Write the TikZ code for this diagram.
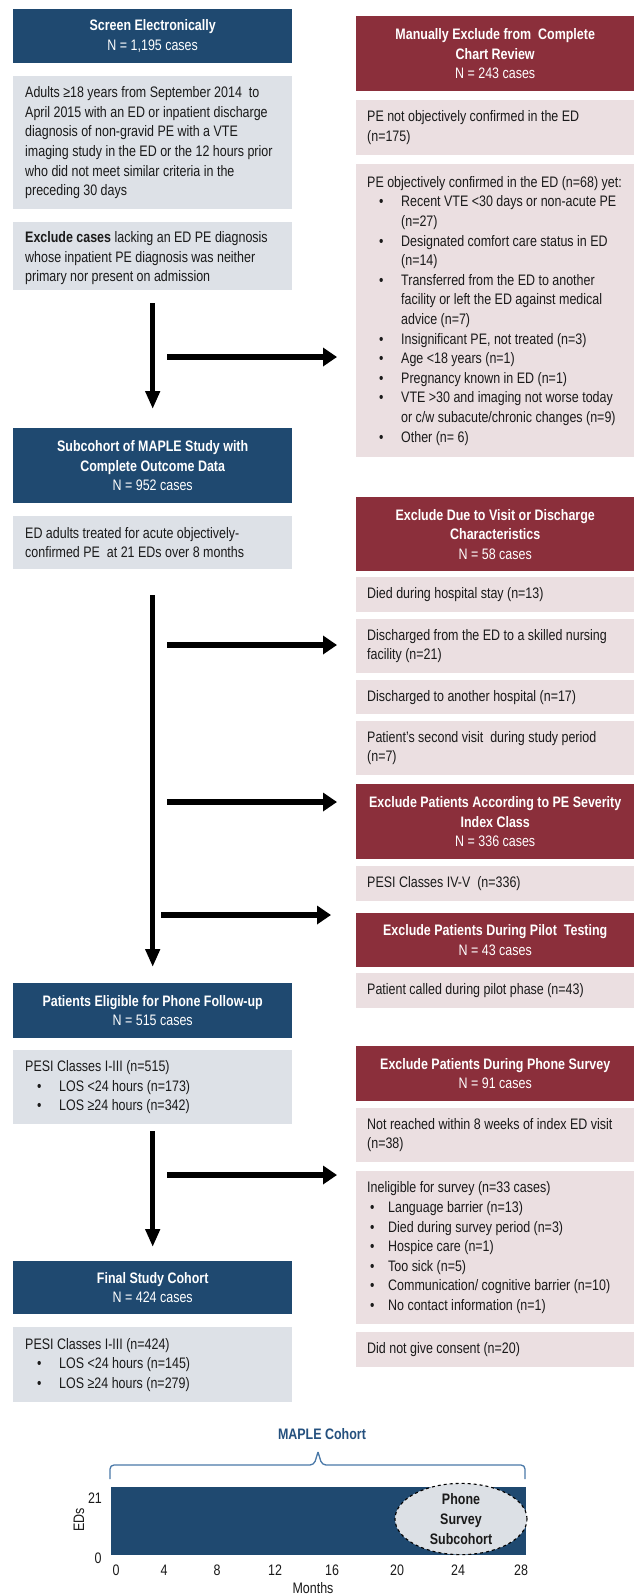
\documentclass[tikz,border=0pt]{standalone}
\usepackage{fontspec}
\setmainfont{Liberation Sans}[FakeStretch=0.82]
\usetikzlibrary{arrows.meta,shapes.geometric,calc}
\definecolor{cblue}{HTML}{1F4970}
\definecolor{cred}{HTML}{8B2F3B}
\definecolor{cgray}{HTML}{DDE1E7}
\definecolor{cpink}{HTML}{EBDFE1}
\definecolor{ctext}{HTML}{1A1A1A}
\definecolor{cbrace}{HTML}{4A79A8}
\definecolor{ctitle}{HTML}{24507E}
\definecolor{cell}{HTML}{DCE0E5}
\newcommand\fs{\fontsize{15.2}{19.6}\selectfont}
\newcommand\mybul{\makebox[34pt][l]{\hspace*{12pt}•}}
\newcommand\myind{\hspace*{34pt}}
\newcommand\mybulb{\makebox[21pt][l]{\hspace*{3pt}•}}
\tikzset{
  base/.style={anchor=north west, inner sep=0pt, font=\fs},
  lw/.style={minimum width=279pt},
  rw/.style={minimum width=278pt},
  bluebox/.style={base, lw, fill=cblue, text=white, align=center},
  redbox/.style={base, rw, fill=cred, text=white, align=center},
  graybox/.style={base, lw, fill=cgray},
  pinkbox/.style={base, rw, fill=cpink},
  txt/.style={anchor=west, inner sep=0pt, align=left, font=\fs, text=ctext},
  varr/.style={line width=4.5pt, -{Triangle[length=18pt,width=14pt]}},
  harr/.style={line width=6pt, -{Triangle[length=14pt,width=18pt]}},
  lbl/.style={inner sep=0pt, font=\fs, text=ctext}
}
\begin{document}
\begin{tikzpicture}[x=1pt,y=-1pt]
\fill[white] (0,0) rectangle (634,1595);
\useasboundingbox (0,0) rectangle (634,1595);
% ---------- left column ----------
\node[bluebox, minimum height=54pt] (L1) at (13,9) {\textbf{Screen Electronically}\\N = 1,195 cases};
\node[graybox, minimum height=133pt] (L2) at (13,76) {};
\node[txt] (L2t) at ([xshift=12pt]L2.west) {Adults ≥18 years from September 2014 \ to\\April 2015 with an ED or inpatient discharge\\diagnosis of non-gravid PE with a VTE\\imaging study in the ED or the 12 hours prior\\who did not meet similar criteria in the\\preceding 30 days};
\node[graybox, minimum height=68pt] (L3) at (13,222) {};
\node[txt] (L3t) at ([xshift=12pt,yshift=-2pt]L3.west) {\textbf{Exclude cases} lacking an ED PE diagnosis\\whose inpatient PE diagnosis was neither\\primary nor present on admission};
\node[bluebox, minimum height=75pt] (L4) at (13,428) {\textbf{Subcohort of MAPLE Study with}\\\textbf{Complete Outcome Data}\\N = 952 cases};
\node[graybox, minimum height=53pt] (L5) at (13,516) {};
\node[txt] (L5t) at ([xshift=12pt]L5.west) {ED adults treated for acute objectively-\\confirmed PE \ at 21 EDs over 8 months};
\node[bluebox, minimum height=55pt] (L6) at (13,983) {\textbf{Patients Eligible for Phone Follow-up}\\N = 515 cases};
\node[graybox, minimum height=74pt] (L7) at (13,1050) {};
\node[txt] (L7t) at ([xshift=12pt]L7.west) {PESI Classes I-III (n=515)\\\mybul LOS <24 hours (n=173)\\\mybul LOS ≥24 hours (n=342)};
\node[bluebox, minimum height=53pt] (L8) at (13,1261) {\textbf{Final Study Cohort}\\N = 424 cases};
\node[graybox, minimum height=75pt] (L9) at (13,1327) {};
\node[txt] (L9t) at ([xshift=12pt]L9.west) {PESI Classes I-III (n=424)\\\mybul LOS <24 hours (n=145)\\\mybul LOS ≥24 hours (n=279)};
% ---------- right column ----------
\node[redbox, minimum height=75pt] (R1) at (356,16) {\textbf{Manually Exclude from \ Complete}\\\textbf{Chart Review}\\N = 243 cases};
\node[pinkbox, minimum height=55pt] (R2) at (356,100) {};
\node[txt] (R2t) at ([xshift=11pt]R2.west) {PE not objectively confirmed in the ED\\(n=175)};
\node[pinkbox, minimum height=293pt] (R3) at (356,164) {};
\node[txt] (R3t) at ([xshift=11pt]R3.west) {PE objectively confirmed in the ED (n=68) yet:\\\mybul Recent VTE <30 days or non-acute PE\\\myind (n=27)\\\mybul Designated comfort care status in ED\\\myind (n=14)\\\mybul Transferred from the ED to another\\\myind facility or left the ED against medical\\\myind advice (n=7)\\\mybul Insignificant PE, not treated (n=3)\\\mybul Age <18 years (n=1)\\\mybul Pregnancy known in ED (n=1)\\\mybul VTE >30 and imaging not worse today\\\myind or c/w subacute/chronic changes (n=9)\\\mybul Other (n= 6)};
\node[redbox, minimum height=74pt] (R4) at (356,497) {\textbf{Exclude Due to Visit or Discharge}\\\textbf{Characteristics}\\N = 58 cases};
\node[pinkbox, minimum height=35pt] (R5) at (356,577) {};
\node[txt] (R5t) at ([xshift=11pt]R5.west) {Died during hospital stay (n=13)};
\node[pinkbox, minimum height=54pt] (R6) at (356,619) {};
\node[txt] (R6t) at ([xshift=11pt]R6.west) {Discharged from the ED to a skilled nursing\\facility (n=21)};
\node[pinkbox, minimum height=34pt] (R7) at (356,680) {};
\node[txt] (R7t) at ([xshift=11pt]R7.west) {Discharged to another hospital (n=17)};
\node[pinkbox, minimum height=54pt] (R8) at (356,721) {};
\node[txt] (R8t) at ([xshift=11pt]R8.west) {Patient’s second visit \ during study period\\(n=7)};
\node[redbox, minimum height=75pt] (R9) at (356,784) {\textbf{Exclude Patients According to PE Severity}\\\textbf{Index Class}\\N = 336 cases};
\node[pinkbox, minimum height=35pt] (R10) at (356,866) {};
\node[txt] (R10t) at ([xshift=11pt]R10.west) {PESI Classes IV-V \ (n=336)};
\node[redbox, minimum height=54pt] (R11) at (356,913) {\textbf{Exclude Patients During Pilot \ Testing}\\N = 43 cases};
\node[pinkbox, minimum height=35pt] (R12) at (356,973) {};
\node[txt] (R12t) at ([xshift=11pt]R12.west) {Patient called during pilot phase (n=43)};
\node[redbox, minimum height=55pt] (R13) at (356,1046) {\textbf{Exclude Patients During Phone Survey}\\N = 91 cases};
\node[pinkbox, minimum height=54pt] (R14) at (356,1108) {};
\node[txt] (R14t) at ([xshift=11pt]R14.west) {Not reached within 8 weeks of index ED visit\\(n=38)};
\node[pinkbox, minimum height=153pt] (R15) at (356,1171) {};
\node[txt] (R15t) at ([xshift=11pt]R15.west) {Ineligible for survey (n=33 cases)\\\mybulb Language barrier (n=13)\\\mybulb Died during survey period (n=3)\\\mybulb Hospice care (n=1)\\\mybulb Too sick (n=5)\\\mybulb Communication/ cognitive barrier (n=10)\\\mybulb No contact information (n=1)};
\node[pinkbox, minimum height=35pt] (R16) at (356,1332) {};
\node[txt] (R16t) at ([xshift=11pt]R16.west) {Did not give consent (n=20)};
% ---------- arrows ----------
\draw[varr] ([yshift=-13pt]L3.south) -- ([yshift=19pt]L4.north);
\draw[varr] ([yshift=-26pt]L5.south) -- ([yshift=16pt]L6.north);
\draw[varr] ([yshift=-7pt]L7.south) -- ([yshift=14pt]L8.north);
\coordinate (b1) at (167,357);
\coordinate (b2) at (167,645);
\coordinate (b3) at (167,802);
\coordinate (b4) at (161,915);
\coordinate (b5) at (167,1175);
\draw[harr] (b1) -- ([xshift=-19pt]b1 -| R3.west);
\draw[harr] (b2) -- ([xshift=-19pt]b2 -| R6.west);
\draw[harr] (b3) -- ([xshift=-19pt]b3 -| R9.west);
\draw[harr] (b4) -- ([xshift=-25pt]b4 -| R11.west);
\draw[harr] (b5) -- ([xshift=-19pt]b5 -| R15.west);
% ---------- chart ----------
\node[inner sep=0pt, font=\fs\bfseries, text=ctitle] (title) at (322,1434) {MAPLE Cohort};
\draw[cbrace, line width=1.3pt, rounded corners=4pt] (110,1479) -- (110,1465) -- (314,1465) -- (318,1452);
\draw[cbrace, line width=1.3pt, rounded corners=4pt] (318,1452) -- (322,1465) -- (525,1465) -- (525,1479);
\fill[cblue] (111,1487) rectangle (526,1555);
\node[ellipse, fill=cell, draw=black, dashed, line width=1.1pt, minimum width=132pt, minimum height=60pt, inner sep=0pt, align=center, font=\fs\bfseries, text=ctext] (ell) at (461,1519) {Phone\\Survey\\Subcohort};
\node[lbl] (y21) at (95,1498) {21};
\node[lbl] (y0) at (98,1558) {0};
\node[lbl, rotate=90] (yl) at (79,1520) {EDs};
\foreach \v/\x in {0/116,4/164,8/217,12/275,16/332,20/397,24/458,28/521}
  \node[lbl] (t\v) at (\x,1570) {\v};
\node[lbl] (xl) at (313,1588) {Months};
\end{tikzpicture}
\end{document}
